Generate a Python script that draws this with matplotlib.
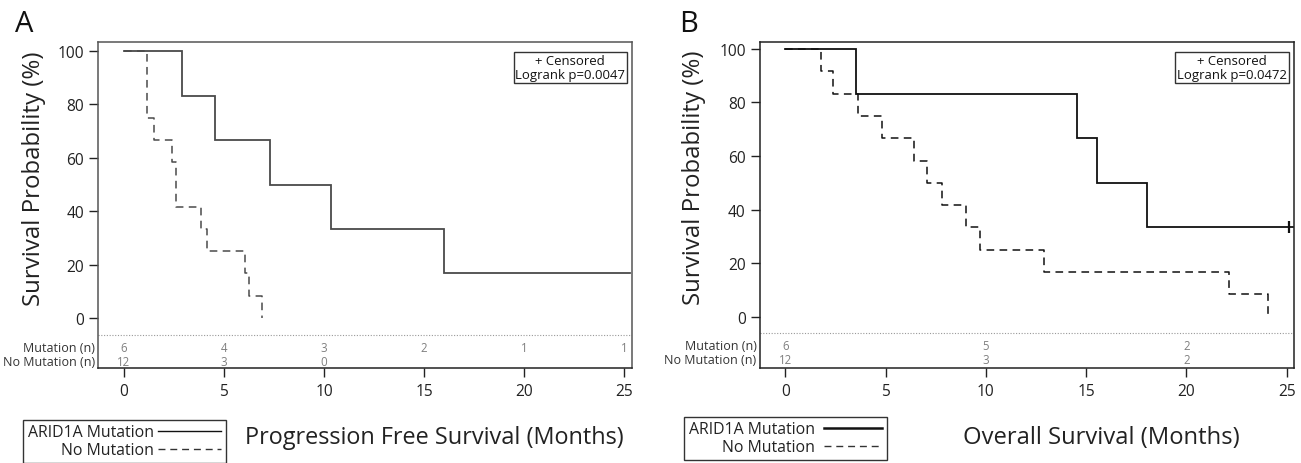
import matplotlib
matplotlib.use('Agg')
import matplotlib.pyplot as plt
from matplotlib.lines import Line2D
import matplotlib.transforms as mtransforms

plt.rcParams['font.family'] = ['Open Sans', 'DejaVu Sans']

# ---------------- data ----------------
# Panel A: progression free survival (months, %)
pfs_mut_t = [0, 2.9, 4.57, 7.3, 10.35, 16.0, 25.3]
pfs_mut_s = [100, 83.3, 66.7, 50, 33.3, 16.7, 16.7]
pfs_nomut_t = [0, 1.17, 1.48, 2.42, 2.58, 3.87, 4.17, 6.05, 6.27, 6.92]
pfs_nomut_s = [100, 75, 66.7, 58.3, 41.7, 33.3, 25, 16.7, 8.3, 0]
pfs_censor_t = []
pfs_censor_s = []
pfs_pvalue = "Logrank p=0.0047"
risk_times_a = [0, 5, 10, 15, 20, 25]
risk_mut_a = [6, 4, 3, 2, 1, 1]
risk_nomut_a = [12, 3, 0]

# Panel B: overall survival
os_mut_t = [0, 3.51, 14.52, 15.52, 18.01, 25.3]
os_mut_s = [100, 83.3, 66.7, 50, 33.3, 33.3]
os_nomut_t = [0, 1.77, 2.38, 3.64, 4.84, 6.42, 7.05, 7.82, 9.03, 9.71, 12.92, 22.14, 24.04]
os_nomut_s = [100, 91.7, 83.3, 75, 66.7, 58.3, 50, 41.7, 33.3, 25, 16.7, 8.3, 0]
os_censor_t = [25.1]
os_censor_s = [33.3]
os_pvalue = "Logrank p=0.0472"
risk_times_b = [0, 10, 20]
risk_mut_b = [6, 5, 2]
risk_nomut_b = [12, 3, 2]

xticks = [0, 5, 10, 15, 20, 25]
yticks = [0, 20, 40, 60, 80, 100]
legend_labels = ["ARID1A Mutation", "No Mutation"]
row_labels = ["Mutation (n)", "No Mutation (n)"]
ylabel_text = "Survival Probability (%)"
xlabel_a = "Progression Free Survival (Months)"
xlabel_b = "Overall Survival (Months)"

W, H = 1301, 464
fig = plt.figure(figsize=(W / 100, H / 100), dpi=100)
fig.canvas.draw()
R = fig.canvas.get_renderer()


def text_width(s, size):
    t = fig.text(0, 0, s, fontsize=size)
    w = t.get_window_extent(R).width
    t.remove()
    return w


def fit(s, target_px, base=10.0):
    return base * target_px / text_width(s, base)


FS_YLAB = fit(ylabel_text, 255)
FS_XLAB_A = fit(xlabel_a, 380)
FS_XLAB_B = fit(xlabel_b, 276)
FS_LEG = fit(legend_labels[0], 127)
FS_ROW = fit(row_labels[1], 92)
FS_P = fit(pfs_pvalue, 109)
FS_TICK = 11.2

DASH = (0, (5, 3.5))


def panel(rect, mut_t, mut_s, no_t, no_s, cen_t, cen_s, pval,
          rt_m, rm, rt_n, rn, xlabel, fs_xlab, xlabel_x, color, spine_color, letter, letter_x,
          ylim, xlim, dotted_y, row_y, leg_x, leg_y, leg_lw, ylab_x, handle_px, pad_px):
    ax = fig.add_axes(rect)
    ax.step(mut_t, mut_s, where='post', color=color, lw=1.3, solid_joinstyle='miter')
    ax.step(no_t, no_s, where='post', color=color, lw=1.1, linestyle=DASH)
    if cen_t:
        ax.plot(cen_t, cen_s, linestyle='none', marker='|', markersize=8,
                markeredgewidth=1.6, color=color)
    ax.set_xlim(*xlim)
    ax.set_ylim(*ylim)
    ax.set_xticks(xticks)
    ax.set_yticks(yticks)
    ax.tick_params(axis='both', direction='out', length=6.5, width=1.0,
                   labelsize=FS_TICK, colors='#222222', pad=3.5)
    ax.tick_params(axis='x', pad=4.5)
    for s in ax.spines.values():
        s.set_color(spine_color)
        s.set_linewidth(1.1)
    ax.spines['bottom'].set_color('#222222')
    ax.axhline(dotted_y, color='#999999', lw=0.8, linestyle=(0, (1, 1.5)))
    # risk table
    for t, n in zip(rt_m, rm):
        ax.text(t, row_y[0], str(n), ha='center', va='center', fontsize=8.3, color='#808080')
    for t, n in zip(rt_n, rn):
        ax.text(t, row_y[1], str(n), ha='center', va='center', fontsize=8.3, color='#808080')
    trans = mtransforms.blended_transform_factory(ax.transAxes, ax.transData)
    for lab, yy in zip(row_labels, row_y):
        ax.text(-0.006, yy, lab, transform=trans, ha='right', va='center',
                fontsize=FS_ROW, color='#333333', clip_on=False)
    ax.set_ylabel(ylabel_text, fontsize=FS_YLAB, color='#222222')
    ax.yaxis.set_label_coords(ylab_x, 0.585)
    # censor/p-value box
    ax.text(0.987, 0.963, "+ Censored\n" + pval, transform=ax.transAxes,
            ha='right', va='top', multialignment='center', fontsize=FS_P,
            color='#111111', linespacing=1.12,
            bbox=dict(boxstyle='square,pad=0.12', fc='white', ec='#333333', lw=1.0))
    fig.text(xlabel_x / W, 1 - 438 / H, xlabel, ha='center', va='center',
             fontsize=fs_xlab, color='#222222')
    fig.text(letter_x / W, 1 - 24 / H, letter, ha='left', va='center',
             fontsize=21, color='#111111')
    handles = [Line2D([], [], color='#111111', lw=leg_lw),
               Line2D([], [], color='#333333', lw=1.0, linestyle=DASH)]
    fpx = FS_LEG * 100 / 72
    leg = fig.legend(handles, legend_labels, markerfirst=False, loc='lower left',
                     bbox_to_anchor=(leg_x / W, leg_y / H), fontsize=FS_LEG,
                     frameon=True, fancybox=False, edgecolor='#333333', framealpha=1,
                     handlelength=handle_px / fpx, handletextpad=pad_px / fpx,
                     borderpad=0.3, labelspacing=0.12, borderaxespad=0)
    leg.get_frame().set_linewidth(1.0)
    for t in leg.get_texts():
        t.set_color('#222222')
    return ax


axA = panel([98 / W, 1 - 369 / H, 534 / W, 326 / H],
            pfs_mut_t, pfs_mut_s, pfs_nomut_t, pfs_nomut_s, pfs_censor_t, pfs_censor_s,
            pfs_pvalue, risk_times_a, risk_mut_a, risk_times_a[:len(risk_nomut_a)], risk_nomut_a,
            xlabel_a, FS_XLAB_A, 434.5, '#4a4a4a', '#555555', 'A', 15,
            (-18.7, 103.4), (-1.3, 25.4), -6.4, (-10.9, -16.1), 23, 0, 1.0, -0.098, 63, 4)

axB = panel([759.7 / W, 1 - 369 / H, 534.3 / W, 326.3 / H],
            os_mut_t, os_mut_s, os_nomut_t, os_nomut_s, os_censor_t, os_censor_s,
            os_pvalue, risk_times_b, risk_mut_b, risk_times_b, risk_nomut_b,
            xlabel_b, FS_XLAB_B, 1101.5, '#111111', '#222222', 'B', 679,
            (-19.2, 102.7), (-1.28, 25.36), -6.2, (-10.8, -16.2), 684, 3, 1.8, -0.101, 58, 9)

fig.savefig('out.png', dpi=100)
